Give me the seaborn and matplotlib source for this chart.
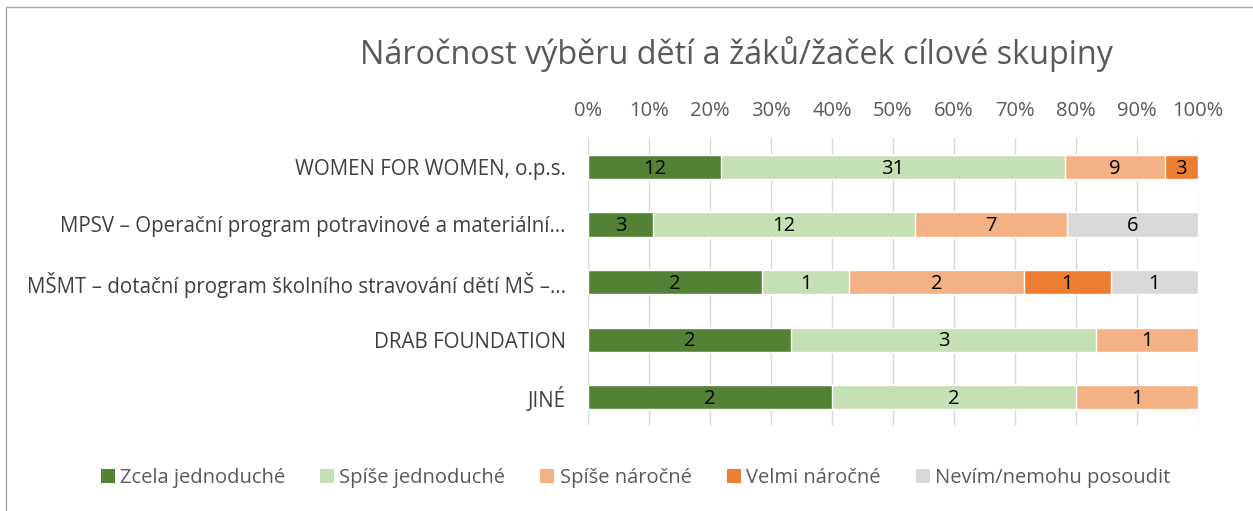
import numpy as np
import pandas as pd
import seaborn as sns
import matplotlib.pyplot as plt
from matplotlib.lines import Line2D
from matplotlib.patches import Patch

# --- data ---
categories = [
    "WOMEN FOR WOMEN, o.p.s.",
    "MPSV – Operační program potravinové a materiální…",
    "MŠMT – dotační program školního stravování dětí MŠ –…",
    "DRAB FOUNDATION",
    "JINÉ",
]
series = ["Zcela jednoduché", "Spíše jednoduché", "Spíše náročné",
          "Velmi náročné", "Nevím/nemohu posoudit"]
zcela_jedn = [12, 3, 2, 2, 2]
spise_jedn = [31, 12, 1, 3, 2]
spise_nar = [9, 7, 2, 1, 1]
velmi_nar = [3, 0, 1, 0, 0]
nevim = [0, 6, 1, 0, 0]
colors = ["#548235", "#C5E0B4", "#F4B183", "#ED7D31", "#D9D9D9"]

title = "Náročnost výběru dětí a žáků/žaček cílové skupiny"

sns.set_theme(style="white")
plt.rcParams['font.family'] = ['Open Sans', 'DejaVu Sans']

counts = pd.DataFrame(
    np.array([zcela_jedn, spise_jedn, spise_nar, velmi_nar, nevim]).T,
    index=categories, columns=series)
pct = counts.div(counts.sum(axis=1), axis=0) * 100
cum = pct.cumsum(axis=1)

fig = plt.figure(figsize=(12.53, 5.11), dpi=100)
ax = fig.add_axes([0.4693, 0.1663, 0.4868, 0.5636])

# draw stacked bars back to front
for s, c in reversed(list(zip(series, colors))):
    d = pd.DataFrame({"cat": categories, "val": cum[s].values})
    sns.barplot(data=d, x="val", y="cat", orient="h", color=c,
                width=0.42, saturation=1, ax=ax, zorder=3)

# value labels
for i, cat in enumerate(categories):
    for s in series:
        v = counts.loc[cat, s]
        if v > 0:
            xc = cum.loc[cat, s] - pct.loc[cat, s] / 2
            ax.text(xc, i + 0.03, str(v), ha="center", va="center",
                    fontsize=14.5, color="black", zorder=4)

ax.set_xlim(0, 100)
ax.set_ylim(4.5, -0.5)
ax.set_xticks(np.arange(0, 101, 10))
ax.set_xticklabels([f"{t}%" for t in range(0, 101, 10)])
ax.xaxis.tick_top()
ax.tick_params(axis="x", length=0, pad=12.5, labelsize=14.5, labelcolor="#595959")
ax.tick_params(axis="y", length=0, pad=16, labelsize=14.8, labelcolor="#404040")
ax.grid(axis="x", color="#D9D9D9", linewidth=1, zorder=0)
ax.set_xlabel("")
ax.set_ylabel("")
for sp in ax.spines.values():
    sp.set_visible(False)

fig.text(0.588, 0.895, title, ha="center", va="center",
         fontsize=23.3, color="#595959")

handles = [Patch(facecolor=c, edgecolor="none") for c in colors]
fig.legend(handles, series, loc="center", bbox_to_anchor=(0.507, 0.064),
           ncol=5, frameon=False, fontsize=14.5, labelcolor="#595959",
           handlelength=0.7, handleheight=0.7, handletextpad=0.25,
           columnspacing=1.75)

# chart border
fig.add_artist(Line2D([6 / 1253, 1], [1 - 7 / 511, 1 - 7 / 511],
                      transform=fig.transFigure, color="#A6A6A6", lw=1))
fig.add_artist(Line2D([6 / 1253, 6 / 1253], [0, 1 - 7 / 511],
                      transform=fig.transFigure, color="#A6A6A6", lw=1))

fig.savefig("out.png", dpi=100)
